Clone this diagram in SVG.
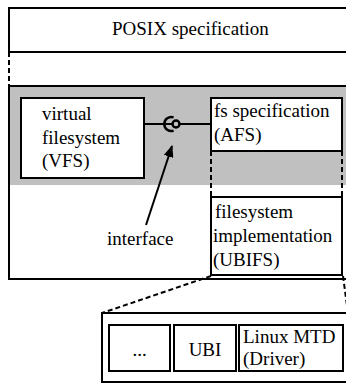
<svg xmlns="http://www.w3.org/2000/svg" width="346" height="383" viewBox="0 0 346 383">
<style>
  .box { fill: #ffffff; stroke: #000000; stroke-width: 2; }
  .frame { fill: none; stroke: #000000; stroke-width: 2; }
  .dash { fill: none; stroke: #000000; stroke-width: 2; stroke-dasharray: 5 3; }
  .line { fill: none; stroke: #000000; stroke-width: 2; }
  .t { font-family: 'Liberation Serif', 'Times New Roman', Times, serif; font-size: 19px; fill: #000000; }
</style>
<defs>
  <marker id="arrow" viewBox="0 0 12 10" refX="11" refY="5" markerWidth="12" markerHeight="10" markerUnits="userSpaceOnUse" orient="auto">
    <path d="M0,0 L12,5 L0,10 Z" fill="#000000"/>
  </marker>
</defs>
<rect width="346" height="383" fill="#ffffff"/>

<g id="posix">
  <rect class="box" x="9" y="8" width="345" height="44"/>
  <text class="t" font-family="Liberation Serif, serif" x="112" y="35">POSIX specification</text>
</g>

<g id="kernel">
  <rect x="9" y="86" width="345" height="193" fill="#ffffff" stroke="none"/>
  <rect x="9" y="86" width="345" height="99" fill="#c0c0c0" stroke="none"/>
  <rect class="frame" x="9" y="86" width="345" height="193"/>
</g>

<g id="vfs">
  <rect class="box" x="21" y="98" width="123" height="80"/>
  <text class="t" font-family="Liberation Serif, serif" x="42" y="120">virtual</text>
  <text class="t" font-family="Liberation Serif, serif" x="42" y="144">filesystem</text>
  <text class="t" font-family="Liberation Serif, serif" x="42" y="167">(VFS)</text>
</g>

<g id="afs">
  <rect class="box" x="211" y="98" width="131" height="53"/>
  <text class="t" font-family="Liberation Serif, serif" x="214" y="117">fs specification</text>
  <text class="t" font-family="Liberation Serif, serif" x="214" y="141">(AFS)</text>
</g>

<g id="ubifs">
  <rect class="box" x="211" y="197" width="131" height="78"/>
  <text class="t" font-family="Liberation Serif, serif" x="215" y="218">filesystem</text>
  <text class="t" font-family="Liberation Serif, serif" x="213" y="242">implementation</text>
  <text class="t" font-family="Liberation Serif, serif" x="213" y="266">(UBIFS)</text>
</g>

<g id="interface-label">
  <text class="t" font-family="Liberation Serif, serif" x="107" y="245">interface</text>
</g>

<g id="driver-stack">
  <rect class="box" x="102" y="313" width="252" height="69"/>
  <g id="dots">
    <rect class="box" x="109" y="325" width="61" height="46"/>
    <text class="t" font-family="Liberation Serif, serif" x="139.5" y="356" text-anchor="middle">...</text>
  </g>
  <g id="ubi">
    <rect class="box" x="174" y="325" width="62" height="46"/>
    <text class="t" font-family="Liberation Serif, serif" x="205" y="356" text-anchor="middle">UBI</text>
  </g>
  <g id="mtd">
    <rect class="box" x="239" y="325" width="104" height="46"/>
    <text class="t" font-family="Liberation Serif, serif" x="243" y="343">Linux MTD</text>
    <text class="t" font-family="Liberation Serif, serif" x="243" y="365">(Driver)</text>
  </g>
</g>

<g id="connectors">
  <line class="dash" x1="9" y1="52" x2="9" y2="86"/>
  <line class="dash" x1="211" y1="151" x2="211" y2="197"/>
  <line class="dash" x1="342" y1="151" x2="342" y2="197"/>
  <line class="dash" x1="211" y1="276" x2="102" y2="313"/>
  <line class="dash" x1="343" y1="276" x2="348" y2="313"/>
  <line class="line" x1="144" y1="124" x2="172.5" y2="124"/>
  <line class="line" x1="179.5" y1="124" x2="211" y2="124"/>
  <circle cx="176" cy="124" r="3.5" fill="#c0c0c0" stroke="#000000" stroke-width="2.5"/>
  <path d="M173.6,117.4 A7,7 0 1 0 173.6,130.6" fill="none" stroke="#000000" stroke-width="2.5"/>
  <line class="line" x1="146" y1="225" x2="172" y2="146" marker-end="url(#arrow)"/>
</g>
</svg>
